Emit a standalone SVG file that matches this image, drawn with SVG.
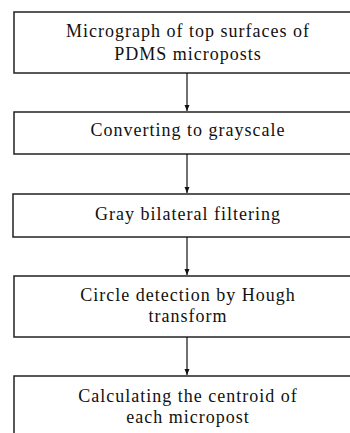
<svg xmlns="http://www.w3.org/2000/svg" width="350" height="433" viewBox="0 0 350 433">
<defs>
<marker id="ah" markerWidth="8" markerHeight="8" refX="6" refY="3" orient="auto" markerUnits="userSpaceOnUse">
<path d="M0,0.5 L6,3 L0,5.5 Z" fill="#111"/>
</marker>
<style>
.box{fill:#fff;stroke:#222;stroke-width:1.5}
.t{font-family:"Liberation Serif","Times New Roman",serif;font-size:18px;letter-spacing:1px;fill:#111;text-anchor:middle}
.c{stroke:#111;stroke-width:1.2;fill:none}
</style>
</defs>
<rect width="350" height="433" fill="#fff"/>
<g id="n1"><rect class="box" x="14" y="12" width="350" height="61"/>
<text class="t" x="188" y="37">Micrograph of top surfaces of</text>
<text class="t" x="188" y="60">PDMS microposts</text></g>
<g id="n2"><rect class="box" x="14" y="112" width="350" height="42"/>
<text class="t" x="188" y="136">Converting to grayscale</text></g>
<g id="n3"><rect class="box" x="13" y="194" width="350" height="43"/>
<text class="t" x="188" y="220">Gray bilateral filtering</text></g>
<g id="n4"><rect class="box" x="14" y="276" width="350" height="61"/>
<text class="t" x="188" y="301">Circle detection by Hough</text>
<text class="t" x="188" y="322">transform</text></g>
<g id="n5"><rect class="box" x="14" y="376" width="350" height="70"/>
<text class="t" x="188" y="402">Calculating the centroid of</text>
<text class="t" x="188" y="423">each micropost</text></g>
<g id="connectors">
<line class="c" x1="187" y1="73" x2="187" y2="111" marker-end="url(#ah)"/>
<line class="c" x1="187" y1="154" x2="187" y2="193" marker-end="url(#ah)"/>
<line class="c" x1="187" y1="237" x2="187" y2="275" marker-end="url(#ah)"/>
<line class="c" x1="187" y1="337" x2="187" y2="375" marker-end="url(#ah)"/>
</g>
</svg>
